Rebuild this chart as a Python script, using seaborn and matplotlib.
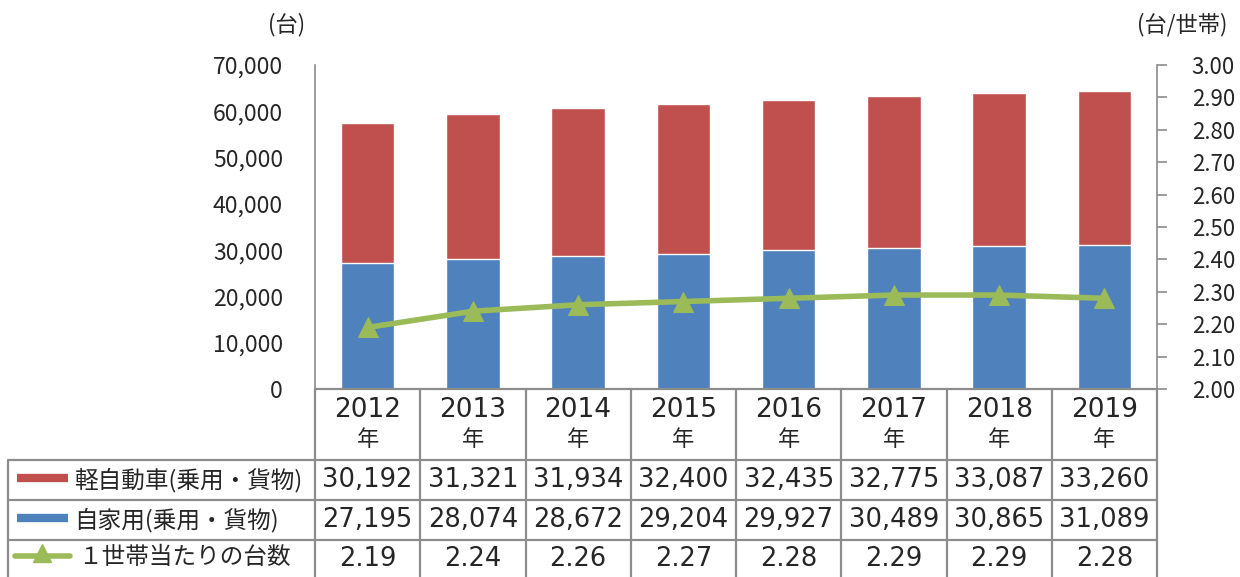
import numpy as np
import pandas as pd
import matplotlib
matplotlib.use("Agg")
import matplotlib.pyplot as plt
import seaborn as sns
from matplotlib.ticker import FuncFormatter, MultipleLocator

years = ["2012", "2013", "2014", "2015", "2016", "2017", "2018", "2019"]
kei = [30192, 31321, 31934, 32400, 32435, 32775, 33087, 33260]
private = [27195, 28074, 28672, 29204, 29927, 30489, 30865, 31089]
per_household = [2.19, 2.24, 2.26, 2.27, 2.28, 2.29, 2.29, 2.28]
series_names = ["軽自動車(乗用・貨物)", "自家用(乗用・貨物)", "１世帯当たりの台数"]
left_unit = "(台)"
right_unit = "(台/世帯)"

RED = "#C0504D"
BLUE = "#4F81BD"
GREEN = "#9BBB59"
GRID = "#8C8C8C"

sns.set_style("white")
plt.rcParams["font.family"] = ["Noto Sans CJK JP", "DejaVu Sans"]
NUMFONT = ["DejaVu Sans", "Noto Sans CJK JP"]

W, H = 1240, 577
fig = plt.figure(figsize=(W / 100, H / 100), dpi=100)

# plot area in pixels
PL, PR, PT, PB = 315, 1157, 65, 389
ax = fig.add_axes([PL / W, 1 - PB / H, (PR - PL) / W, (PB - PT) / H])

df = pd.DataFrame({"year": years, "kei": kei, "private": private,
                   "total": np.array(kei) + np.array(private),
                   "hh": per_household})

sns.barplot(data=df, x="year", y="total", color=RED, saturation=1, width=0.51,
            ax=ax, zorder=2)
sns.barplot(data=df, x="year", y="private", color=BLUE, saturation=1, width=0.51,
            ax=ax, zorder=3)
ax.set_xlim(-0.5, len(years) - 0.5)
ax.set_ylim(0, 70000)
ax.yaxis.set_major_locator(MultipleLocator(10000))
ax.yaxis.set_major_formatter(FuncFormatter(lambda v, p: f"{int(v):,}"))
ax.tick_params(axis="y", labelsize=16.5, length=0, pad=23)
ax.set_xticks([])
ax.set_xlabel("")
ax.set_ylabel("")
for s in ["top", "right"]:
    ax.spines[s].set_visible(False)
ax.spines["left"].set_color(GRID)
ax.spines["bottom"].set_color(GRID)
ax.spines["left"].set_linewidth(1.2)
ax.spines["bottom"].set_linewidth(1.2)

ax2 = ax.twinx()
sns.lineplot(data=df, x="year", y="hh", color=GREEN, linewidth=4, marker="^",
             markersize=15, markeredgecolor=GREEN, ax=ax2, zorder=5)
ax2.set_xlim(-0.5, len(years) - 0.5)
ax2.set_ylim(2.0, 3.0)
ax2.yaxis.set_major_locator(MultipleLocator(0.1))
ax2.yaxis.set_major_formatter(FuncFormatter(lambda v, p: f"{v:.2f}"))
ax2.tick_params(axis="y", labelsize=16, length=7, width=1.2, color=GRID, pad=18)
ax2.set_ylabel("")
ax2.set_xlabel("")
for s in ["top", "left", "bottom"]:
    ax2.spines[s].set_visible(False)
ax2.spines["right"].set_color(GRID)
ax2.spines["right"].set_linewidth(1.2)

fig.text(287 / W, 1 - 25 / H, left_unit, fontsize=16, ha="center", va="center")
fig.text(1182 / W, 1 - 25 / H, right_unit, fontsize=16, ha="center", va="center")

# data table
tab = fig.add_axes([0, 0, 1, 1])
tab.set_xlim(0, W)
tab.set_ylim(H, 0)
tab.axis("off")
tab.patch.set_alpha(0)

n = len(years)
cw = (PR - PL) / n
rows = [PB, 460, 500, 540, 580]
TL = 8
lw = 1.6
for i, y in enumerate(rows):
    x0 = PL if i == 0 else TL
    tab.plot([x0, PR], [y, y], color=GRID, lw=lw, solid_capstyle="butt")
for j in range(n + 1):
    x = PL + j * cw
    tab.plot([x, x], [PB, rows[-1]], color=GRID, lw=lw)
tab.plot([TL, TL], [rows[1], rows[-1]], color=GRID, lw=lw)

for j, yr in enumerate(years):
    cx = PL + (j + 0.5) * cw
    tab.text(cx, 410, yr, fontsize=19, ha="center", va="center", family=NUMFONT)
    tab.text(cx, 440, "年", fontsize=16, ha="center", va="center")
    tab.text(cx, 480, f"{kei[j]:,}", fontsize=18.5, ha="center", va="center", family=NUMFONT)
    tab.text(cx, 520, f"{private[j]:,}", fontsize=18.5, ha="center", va="center", family=NUMFONT)
    tab.text(cx, 559, f"{per_household[j]:.2f}", fontsize=18.5, ha="center", va="center", family=NUMFONT)

# legend keys
tab.plot([17, 68], [478, 478], color=RED, lw=6, solid_capstyle="butt")
tab.plot([17, 68], [518, 518], color=BLUE, lw=6, solid_capstyle="butt")
tab.plot([15, 70], [556, 556], color=GREEN, lw=4, solid_capstyle="round")
tab.plot([42], [553], marker="^", color=GREEN, markersize=13)
tab.text(74, 480, series_names[0], fontsize=17, ha="left", va="center")
tab.text(74, 520, series_names[1], fontsize=17, ha="left", va="center")
tab.text(78, 558, series_names[2], fontsize=17, ha="left", va="center")

fig.savefig("out.png", dpi=100)
